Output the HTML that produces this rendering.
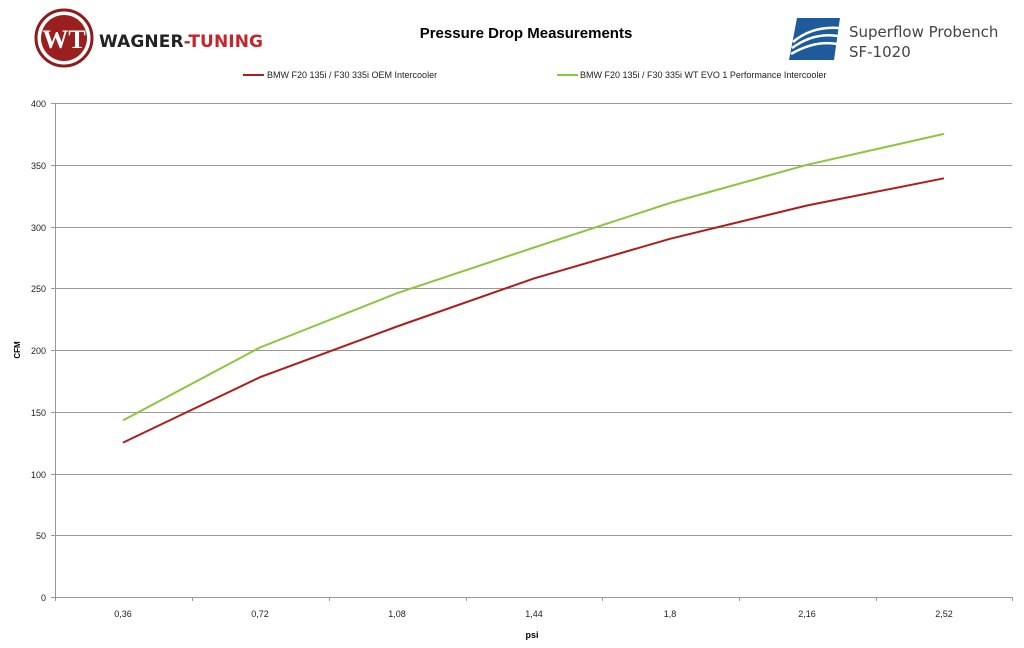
<!DOCTYPE html>
<html><head><meta charset="utf-8"><style>
body{margin:0;background:#fff;width:1024px;height:644px;overflow:hidden;font-family:"DejaVu Sans","Liberation Sans",sans-serif}
</style></head><body>
<svg width="1024" height="644" xmlns="http://www.w3.org/2000/svg" font-family="Liberation Sans, sans-serif">
<circle cx="64" cy="38" r="28" fill="#fff" stroke="#8e1c1c" stroke-width="3"/>
<circle cx="64" cy="38" r="23" fill="#9c1f1f"/>
<text x="64" y="48" text-anchor="middle" font-size="26" font-weight="bold" fill="#fff" font-family="Liberation Serif,serif">WT</text>
<text x="99" y="47" font-size="17" font-weight="bold" fill="#222" font-family="DejaVu Sans,sans-serif" textLength="164">WAGNER<tspan fill="#c4262b">-TUNING</tspan></text>
<text x="526" y="38" text-anchor="middle" font-size="15" font-weight="bold" fill="#000">Pressure Drop Measurements</text>
<path d="M797 18 L840 18 L834 60 L789 60 Z" fill="#1e5a9c"/>
<path d="M793 42 Q812 26 839 28 M792 48 Q814 32 838 36 M791 54 Q815 40 837 44" stroke="#fff" stroke-width="2.5" fill="none"/>
<text x="849" y="37" font-size="15" fill="#444" font-family="DejaVu Sans,sans-serif">Superflow Probench</text>
<text x="849" y="57" font-size="15" fill="#444" font-family="DejaVu Sans,sans-serif">SF-1020</text>
<line x1="243" y1="75" x2="264" y2="75" stroke="#b01c1c" stroke-width="2"/>
<text x="267" y="78" font-size="9" fill="#222">BMW F20 135i / F30 335i OEM Intercooler</text>
<line x1="557" y1="75" x2="578" y2="75" stroke="#8cc63f" stroke-width="2"/>
<text x="580" y="78" font-size="9" fill="#222">BMW F20 135i / F30 335i WT EVO 1 Performance Intercooler</text>
<g stroke="#999" stroke-width="1">
<line x1="55" y1="103.5" x2="1012" y2="103.5"/>
<line x1="55" y1="165.5" x2="1012" y2="165.5"/>
<line x1="55" y1="227.5" x2="1012" y2="227.5"/>
<line x1="55" y1="288.5" x2="1012" y2="288.5"/>
<line x1="55" y1="350.5" x2="1012" y2="350.5"/>
<line x1="55" y1="412.5" x2="1012" y2="412.5"/>
<line x1="55" y1="474.5" x2="1012" y2="474.5"/>
<line x1="55" y1="535.5" x2="1012" y2="535.5"/>
<line x1="55" y1="597.5" x2="1012" y2="597.5"/>
<line x1="55.5" y1="103" x2="55.5" y2="597"/>
</g>
<g stroke="#999">
<line x1="51" y1="103.5" x2="55" y2="103.5"/><line x1="51" y1="165.5" x2="55" y2="165.5"/><line x1="51" y1="227.5" x2="55" y2="227.5"/><line x1="51" y1="288.5" x2="55" y2="288.5"/><line x1="51" y1="350.5" x2="55" y2="350.5"/><line x1="51" y1="412.5" x2="55" y2="412.5"/><line x1="51" y1="474.5" x2="55" y2="474.5"/><line x1="51" y1="535.5" x2="55" y2="535.5"/><line x1="51" y1="597.5" x2="55" y2="597.5"/>
<line x1="55.5" y1="597" x2="55.5" y2="601"/><line x1="192.5" y1="597" x2="192.5" y2="601"/><line x1="329.5" y1="597" x2="329.5" y2="601"/><line x1="466.5" y1="597" x2="466.5" y2="601"/><line x1="602.5" y1="597" x2="602.5" y2="601"/><line x1="739.5" y1="597" x2="739.5" y2="601"/><line x1="876.5" y1="597" x2="876.5" y2="601"/><line x1="1012.5" y1="597" x2="1012.5" y2="601"/>
</g>
<g font-size="9" fill="#222" text-anchor="end">
<text x="46" y="107">400</text><text x="46" y="169">350</text><text x="46" y="231">300</text><text x="46" y="292">250</text><text x="46" y="354">200</text><text x="46" y="416">150</text><text x="46" y="478">100</text><text x="46" y="539">50</text><text x="46" y="601">0</text>
</g>
<g font-size="9" fill="#222" text-anchor="middle">
<text x="123" y="617">0,36</text><text x="260" y="617">0,72</text><text x="397" y="617">1,08</text><text x="534" y="617">1,44</text><text x="670" y="617">1,8</text><text x="807" y="617">2,16</text><text x="944" y="617">2,52</text>
</g>
<text x="532" y="638" text-anchor="middle" font-size="9" font-weight="bold">psi</text>
<text x="20" y="350" text-anchor="middle" font-size="8" font-weight="bold" transform="rotate(-90 20 350)">CFM</text>
<polyline fill="none" stroke="#b01c1c" stroke-width="2" points="123,442.6 260,377.2 397,326.5 534,278.4 670,238.8 807,205.5 944,178.3"/>
<polyline fill="none" stroke="#8cc63f" stroke-width="2" points="123,420.4 260,347.5 397,293.2 534,247.5 670,203.0 807,164.8 944,133.9"/>
</svg>
</body></html>
